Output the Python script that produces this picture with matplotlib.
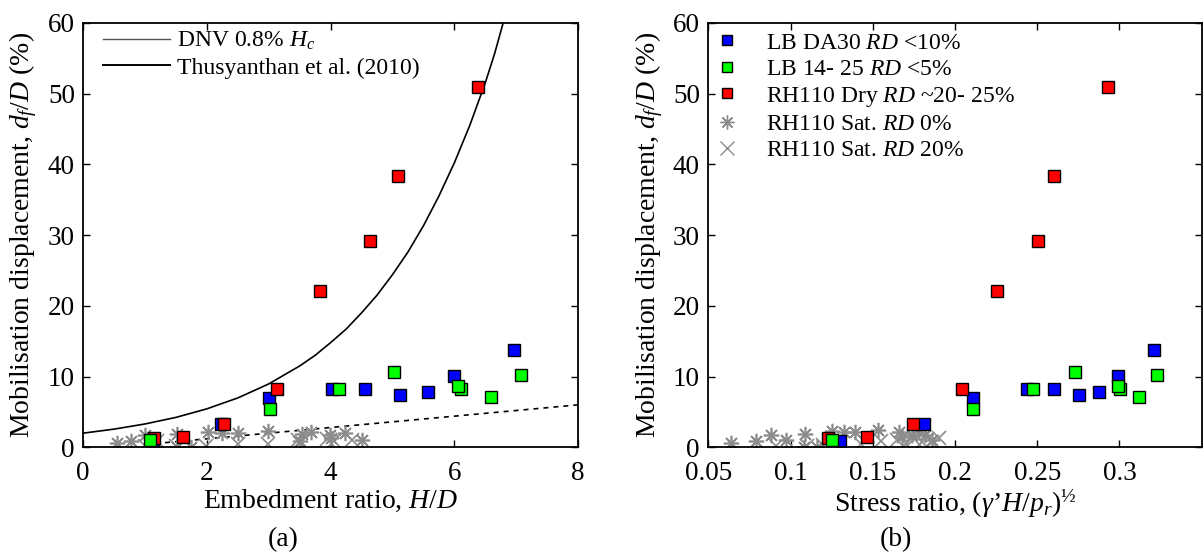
import matplotlib
matplotlib.use('Agg')
import matplotlib.pyplot as plt
from matplotlib.lines import Line2D

plt.rcParams['font.family'] = ['Liberation Serif', 'DejaVu Serif']
plt.rcParams['mathtext.fontset'] = 'custom'
plt.rcParams['mathtext.rm'] = 'Liberation Serif'
plt.rcParams['mathtext.it'] = 'Liberation Serif:italic'
plt.rcParams['mathtext.bf'] = 'Liberation Serif:bold'

# ---- (a) embedment ratio H/D ----
blue_hd = [1.12, 2.22, 3.0, 4.02, 4.56, 5.12, 5.58, 6.0, 6.96]
blue_d = [0.85, 3.3, 7.0, 8.2, 8.2, 7.35, 7.85, 10.1, 13.8]
green_hd = [1.08, 3.02, 4.14, 5.02, 6.1, 6.06, 6.59, 7.07]
green_d = [1.1, 5.45, 8.2, 10.7, 8.3, 8.6, 7.1, 10.2]
red_hd = [1.15, 1.62, 2.28, 3.14, 3.83, 4.64, 5.09, 6.38]
red_d = [1.25, 1.45, 3.25, 8.2, 22.1, 29.1, 38.4, 50.9]
star_hd = [0.55, 0.78, 1.0, 1.52, 1.52, 1.75, 2.02, 2.25, 2.5, 2.99,
           3.5, 3.53, 3.69, 3.99, 4.0, 4.23, 4.5]
star_d = [0.55, 0.9, 1.75, 1.85, 0.1, 0.1, 2.2, 2.05, 2.0, 2.35,
          0.9, 1.9, 2.2, 1.7, 1.3, 2.05, 1.0]
cross_hd = [1.0, 1.2, 1.5, 1.99, 2.5, 2.99, 3.48, 3.5, 3.94, 4.05, 4.35]
cross_d = [0.2, 0.9, 0.2, 0.2, 0.4, 0.5, 1.0, 0.6, 1.2, 0.9, 1.1]

# DNV 0.8% Hc line and Thusyanthan et al. (2010) curve
dnv_hd = [1.0, 8.0]
dnv_d = [0.4, 6.0]
thus_hd = [0, 0.5, 1, 1.5, 2, 2.5, 3, 3.5, 3.75, 4, 4.25, 4.5, 4.75, 5,
           5.25, 5.5, 5.75, 6, 6.25, 6.5, 6.65, 6.79]
thus_d = [2.0, 2.57, 3.3, 4.23, 5.44, 6.98, 8.96, 11.5, 13.0, 14.8, 16.7,
          19.0, 21.5, 24.4, 27.6, 31.3, 35.5, 40.2, 45.5, 51.5, 55.6, 60.0]

# ---- (b) stress ratio ----
blue_sr = [0.1301, 0.1812, 0.211, 0.2439, 0.2599, 0.2756, 0.2878, 0.299, 0.3213]
green_sr = [0.1254, 0.211, 0.2474, 0.2728, 0.3002, 0.299, 0.312, 0.323]
red_sr = [0.1226, 0.1465, 0.1742, 0.204, 0.2256, 0.2502, 0.2603, 0.2932]
star_sr = [0.064, 0.079, 0.088, 0.097, 0.109, 0.108, 0.116, 0.125, 0.1325,
           0.139, 0.153, 0.166, 0.168, 0.174, 0.178, 0.182, 0.186]
star_d_b = [0.6, 0.9, 1.8, 1.1, 1.95, 0.1, 0.0, 2.3, 2.2, 2.1, 2.4, 2.2,
            1.5, 1.8, 2.2, 1.8, 1.1]
cross_sr = [0.091, 0.11, 0.12, 0.125, 0.143, 0.155, 0.165, 0.17, 0.175,
            0.18, 0.186, 0.19]
cross_d_b = [0.2, 0.2, 0.3, 0.5, 0.5, 0.9, 1.0, 0.5, 1.2, 0.8, 0.7, 1.3]

gray = '#8c8c8c'
sq = dict(marker='s', ms=9, mec='black', mew=1.0, ls='none')
star_marker = (8, 2, 0)

fig = plt.figure(figsize=(12.03, 5.56), dpi=100)
ax1 = fig.add_axes([0.0692, 0.1955, 0.4113, 0.7636])
ax2 = fig.add_axes([0.5888, 0.1955, 0.4101, 0.7636])

ylab = r'Mobilisation displacement, $d_f/D$ (%)'

# left panel
ax1.plot(thus_hd, thus_d, color='black', lw=1.2, zorder=2)
ax1.plot(dnv_hd, dnv_d, color='black', lw=1.2, ls=(0, (3, 3)), zorder=2)
ax1.plot(cross_hd, cross_d, ls='none', marker='x', ms=10, mew=1.2, color=gray)
ax1.plot(star_hd, star_d, ls='none', marker=star_marker, ms=11, mew=1.2, color=gray)
ax1.plot(blue_hd, blue_d, mfc='#0000ff', **sq)
ax1.plot(red_hd, red_d, mfc='#ff0000', **sq)
ax1.plot(green_hd, green_d, mfc='#00ff00', **sq)
ax1.set_xlim(0, 8)
ax1.set_ylim(0, 60)
ax1.set_xticks([0, 2, 4, 6, 8])
ax1.set_xlabel(r'Embedment ratio, $H/D$', fontsize=20, labelpad=1)
ax1.set_ylabel(ylab, fontsize=20, labelpad=6)
h1 = [Line2D([], [], color='#555555', lw=1.0),
      Line2D([], [], color='black', lw=1.4)]
ax1.legend(h1, [r'DNV 0.8% $H_c$', 'Thusyanthan et al. (2010)'],
           loc='upper left', frameon=False, fontsize=17, handlelength=2.84,
           handletextpad=0.3, labelspacing=0.2, borderaxespad=0.45,
           bbox_to_anchor=(0.0, 1.03))

# right panel
ax2.plot(cross_sr, cross_d_b, ls='none', marker='x', ms=10, mew=1.2, color=gray)
ax2.plot(star_sr, star_d_b, ls='none', marker=star_marker, ms=11, mew=1.2, color=gray)
ax2.plot(blue_sr, blue_d, mfc='#0000ff', **sq)
ax2.plot(red_sr, red_d, mfc='#ff0000', **sq)
ax2.plot(green_sr, green_d, mfc='#00ff00', **sq)
ax2.set_xlim(0.05, 0.35)
ax2.set_ylim(0, 60)
ax2.set_xticks([0.05, 0.1, 0.15, 0.2, 0.25, 0.3])
ax2.set_xticklabels(['0.05', '0.1', '0.15', '0.2', '0.25', '0.3'])
ax2.set_xlabel(r"Stress ratio, $(\gamma$’$H/p_r)^{½}$", fontsize=20, labelpad=1)
ax2.set_ylabel(ylab, fontsize=20, labelpad=6)
h2 = [Line2D([], [], marker='s', ms=7, mfc='#0000ff', mec='black', ls='none'),
      Line2D([], [], marker='s', ms=7, mfc='#00ff00', mec='black', ls='none'),
      Line2D([], [], marker='s', ms=7, mfc='#ff0000', mec='black', ls='none'),
      Line2D([], [], marker=star_marker, ms=10, mew=1.0, color=gray, ls='none'),
      Line2D([], [], marker='x', ms=10, mew=1.0, color=gray, ls='none')]
ax2.legend(h2, [r'LB DA30 $RD$ <10%', r'LB 14- 25 $RD$ <5%',
                r'RH110 Dry $RD$ ~20- 25%', r'RH110 Sat. $RD$ 0%',
                r'RH110 Sat. $RD$ 20%'],
           loc='upper left', frameon=False, fontsize=17, handlelength=0.8,
           handletextpad=1.25, labelspacing=0.2, borderaxespad=0.0,
           bbox_to_anchor=(0.0, 1.0))

for ax in (ax1, ax2):
    ax.set_yticks(range(0, 61, 10))
    ax.tick_params(direction='in', top=True, right=True, length=5,
                   width=1.0, labelsize=19.5)
    ax.tick_params(axis='x', pad=10)
    ax.tick_params(axis='y', pad=6)
    for s in ax.spines.values():
        s.set_linewidth(1.3)

fig.text(0.235, 0.018, '(a)', ha='center', fontsize=20)
fig.text(0.745, 0.018, '(b)', ha='center', fontsize=20)

fig.savefig('out.png', dpi=100)
